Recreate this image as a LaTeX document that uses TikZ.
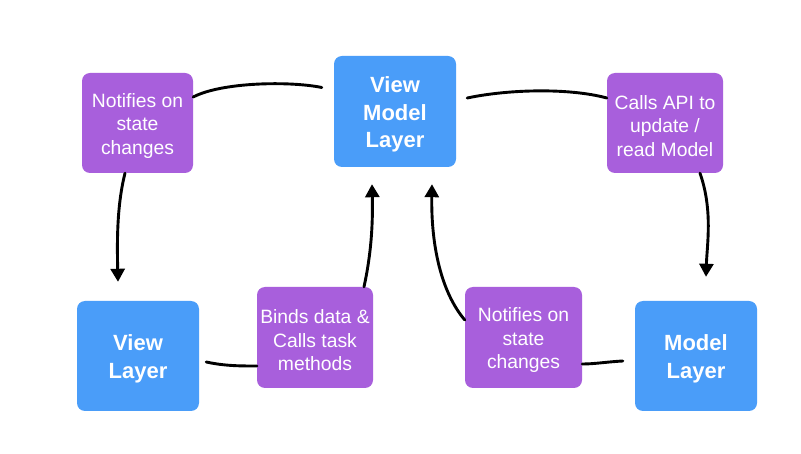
\documentclass[tikz,border=0pt]{standalone}
\usepackage{fontspec}
\setmainfont{Liberation Sans}
\usetikzlibrary{arrows.meta,calc}
\definecolor{layerblue}{RGB}{74,157,249}
\definecolor{notepurple}{RGB}{168,95,220}
\newcommand\lowerfirst[1]{\rule{0pt}{#1}}
\begin{document}
\begin{tikzpicture}[x=1pt,y=-1pt,
  layerbox/.style={fill=layerblue, rounded corners=8pt, inner sep=0pt, text=white,
    align=center, minimum width=122pt, minimum height=110pt,
    font=\fontsize{22}{27.5}\selectfont\bfseries},
  notebox/.style={fill=notepurple, rounded corners=8pt, inner sep=0pt, text=white,
    align=center, minimum height=101pt,
    font=\fontsize{19.3}{23.5}\selectfont},
  link/.style={line width=2.9pt, line cap=round, black},
  arrowlink/.style={link, -{Triangle[width=14pt,length=13pt]}}
]
\useasboundingbox (0,0) rectangle (801,454);
\fill[white] (0,0) rectangle (801,454);

% layers
\node[layerbox, minimum height=111pt] (vm) at (395,111.5) {\lowerfirst{22pt}View\\Model\\Layer};
\node[layerbox] (vl) at (138,356) {\lowerfirst{22pt}View\\Layer};
\node[layerbox] (ml) at (696,356) {\lowerfirst{22pt}Model\\Layer};

% notes
\node[notebox, minimum width=111pt, minimum height=100pt] (tl) at (137.5,123) {\lowerfirst{20pt}Notifies on\\state\\changes};
\node[notebox, minimum width=116pt, minimum height=100pt] (tr) at (665,123) {\lowerfirst{20pt}Calls API to\\update /\\read Model};
\node[notebox, minimum width=116pt] (bd) at (315,337.5) {\lowerfirst{20pt}Binds data \&\\Calls task\\methods};
\node[notebox, minimum width=117pt] (nb) at (523.5,337.5) {\lowerfirst{20pt}Notifies on\\state\\changes};

% top left
\draw[link] ($(vm.west)+(-12,-24)$) .. controls (290,81) and (222,82) .. ($(tl.east)+(0,-26)$);
\draw[arrowlink] ($(tl.south)+(-12.5,0)$) .. controls (117,205) and (117,240) .. ($(vl.north)+(-20,-19)$);

% top right
\draw[link] ($(vm.east)+(11,-13.5)$) .. controls (510,89) and (570,88) .. ($(tr.west)+(0,-25)$);
\draw[arrowlink] ($(tr.south)+(35,0)$) .. controls (713,210) and (707,245) .. ($(ml.north)+(10,-24)$);

% bottom left
\draw[link] ($(vl.east)+(7,6)$) .. controls (225,366) and (240,366) .. ($(bd.west)+(0,28.5)$);
\draw[arrowlink] ($(bd.north)+(49,0)$) .. controls (371,255) and (373,225) .. ($(vm.south)+(-23,17)$);

% bottom right
\draw[link] ($(ml.west)+(-12,5)$) .. controls (605,362) and (595,364) .. ($(nb.east)+(0,26.5)$);
\draw[arrowlink] ($(nb.west)+(0,-17.5)$) .. controls (441,292) and (431,245) .. ($(vm.south)+(37,17)$);
\end{tikzpicture}
\end{document}
